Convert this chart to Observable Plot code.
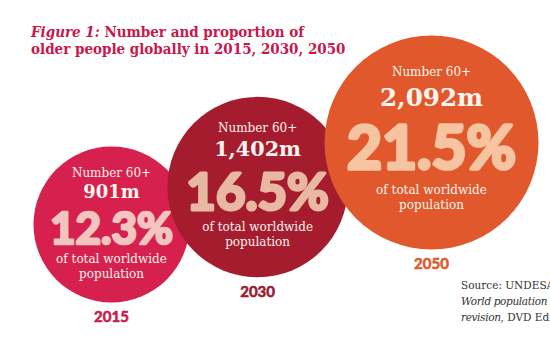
<!DOCTYPE html>
<html>
<head>
<meta charset="utf-8">
<script src="https://cdn.jsdelivr.net/npm/d3@7"></script>
<script src="https://cdn.jsdelivr.net/npm/@observablehq/plot@0.6"></script>
<style>
  html, body { margin: 0; padding: 0; background: #fff; }
  #wrap { position: relative; width: 550px; height: 353px; overflow: hidden; }
  #title { position: absolute; left: 31px; top: 24px; font-family: "DejaVu Serif Condensed", "DejaVu Serif", serif; font-weight: bold; font-size: 15px; line-height: 17px; color: #c8174a; white-space: nowrap; }
  #title i { font-weight: bold; }
  #source { position: absolute; left: 461px; top: 277px; font-family: "DejaVu Serif", serif; font-size: 10.5px; line-height: 16px; color: #333; white-space: nowrap; }
  #source i { letter-spacing: -0.35px; }
  #chart { position: absolute; left: 0; top: 0; }
</style>
</head>
<body>
<div id="wrap">
  <div id="chart"></div>
  <div id="title"><i>Figure 1:</i> Number and proportion of<br>older people globally in 2015, 2030, 2050</div>
  <div id="source">Source: UNDESA (2013),<br><i>World population prospects: the 2012</i><br><i>revision</i>, DVD Edition.</div>
</div>
<script>
// ---- data ----
const years = [2015, 2030, 2050];
const olderPeople = [901, 1402, 2092];          // millions aged 60+
const olderLabels = ["901m", "1,402m", "2,092m"];
const shares = [12.3, 16.5, 21.5];              // % of total worldwide population

// ---- styles ----
const circleColors = ["#d6204d", "#a51c2f", "#e0582b"];
const shareColors = ["#f3c5c0", "#e8b8a3", "#f6c4a0"];
const yearColors = ["#c81c4b", "#9b1b2e", "#dd5a2c"];
const lightText = "#fff4ee";
const serif = "'DejaVu Serif', serif";
const sans = "Lato, 'Open Sans', sans-serif";

const rows = years.map((year, i) => ({
  year, number: olderPeople[i], label: olderLabels[i], share: shares[i], i
}));

const rOptions = {type: "linear", domain: [901, 2092], range: [78, 107]};
const rScale = Plot.scale({r: rOptions});

const marks = [];
for (const row of rows) {
  const r = rScale.apply(row.number);
  const base = {x: "share", y: "share", textAnchor: "middle", lineAnchor: "middle"};
  marks.push(Plot.dot([row], {x: "share", y: "share", r: "number", fill: circleColors[row.i], stroke: "none"}));
  marks.push(Plot.text([row], {...base, text: () => "Number 60+", dy: -0.655 * r, fontSize: 12, fontFamily: serif, fill: lightText}));
  marks.push(Plot.text([row], {...base, text: "label", dy: -0.415 * r, fontSize: 0.23 * r, fontFamily: serif, fontWeight: "bold", fill: lightText}));
  marks.push(Plot.text([row], {...base, text: d => d.share.toFixed(1) + "%", dy: 0.07 * r, fontSize: 0.565 * r, fontFamily: sans, fontWeight: "bold", fill: shareColors[row.i], stroke: shareColors[row.i], strokeWidth: 0.035 * r, strokeLinejoin: "round"}));
  marks.push(Plot.text([row], {...base, text: () => "of total worldwide", dy: 0.45 * r, fontSize: 12, fontFamily: serif, fill: lightText}));
  marks.push(Plot.text([row], {...base, text: () => "population", dy: 0.45 * r + 15, fontSize: 12, fontFamily: serif, fill: lightText}));
  marks.push(Plot.text([row], {...base, text: d => String(d.year), dy: r + 15, fontSize: 15, fontFamily: sans, fontWeight: "bold", fill: yearColors[row.i], stroke: yearColors[row.i], strokeWidth: 0.6}));
}

const chart = Plot.plot({
  width: 550,
  height: 353,
  margin: 0,
  x: {domain: [12.3, 21.5], range: [111, 431], axis: null},
  y: {domain: [12.3, 21.5], range: [224, 142], axis: null},
  r: rOptions,
  style: {background: "transparent", overflow: "visible"},
  marks
});
document.getElementById("chart").appendChild(chart);
</script>
</body>
</html>
